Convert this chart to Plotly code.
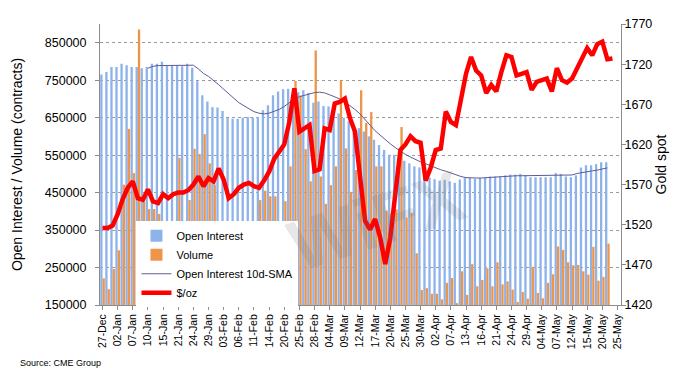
import plotly.graph_objects as go

dates = ["27-Dec","30-Dec","31-Dec","02-Jan","03-Jan","06-Jan","07-Jan","08-Jan","09-Jan","10-Jan",
         "13-Jan","14-Jan","15-Jan","16-Jan","17-Jan","21-Jan","22-Jan","23-Jan","24-Jan","27-Jan",
         "28-Jan","29-Jan","30-Jan","31-Jan","03-Feb","04-Feb","05-Feb","06-Feb","07-Feb","10-Feb",
         "11-Feb","12-Feb","13-Feb","14-Feb","18-Feb","19-Feb","20-Feb","21-Feb","24-Feb","25-Feb",
         "26-Feb","27-Feb","28-Feb","02-Mar","03-Mar","04-Mar","05-Mar","06-Mar","09-Mar","10-Mar",
         "11-Mar","12-Mar","13-Mar","16-Mar","17-Mar","18-Mar","19-Mar","20-Mar","23-Mar","24-Mar",
         "25-Mar","26-Mar","27-Mar","30-Mar","31-Mar","01-Apr","02-Apr","03-Apr","06-Apr","07-Apr",
         "08-Apr","09-Apr","13-Apr","14-Apr","15-Apr","16-Apr","17-Apr","20-Apr","21-Apr","22-Apr",
         "23-Apr","24-Apr","27-Apr","28-Apr","29-Apr","30-Apr","01-May","04-May","05-May","06-May",
         "07-May","08-May","11-May","12-May","13-May","14-May","15-May","18-May","19-May","20-May",
         "21-May","22-May","25-May"]

tick_labels = ["27-Dec","02-Jan","07-Jan","10-Jan","15-Jan","21-Jan","24-Jan","29-Jan","03-Feb","06-Feb",
               "11-Feb","14-Feb","20-Feb","25-Feb","28-Feb","04-Mar","09-Mar","12-Mar","17-Mar","20-Mar",
               "25-Mar","30-Mar","02-Apr","07-Apr","13-Apr","16-Apr","21-Apr","24-Apr","29-Apr","04-May",
               "07-May","12-May","15-May","20-May","25-May"]

left_ticks = [150000, 250000, 350000, 450000, 550000, 650000, 750000, 850000]
right_ticks = [1420, 1470, 1520, 1570, 1620, 1670, 1720, 1770]

# thousands of contracts
open_interest_k = [765,772,785,785,794,790,785,785,782,785,
                   794,794,799,790,790,790,787,794,783,747,
                   710,693,678,677,668,649,647,647,650,652,
                   650,652,670,683,710,720,726,727,726,718,
                   723,716,690,693,681,680,668,661,650,641,
                   630,622,613,600,591,577,564,551,551,555,
                   535,528,520,517,512,490,486,482,484,480,
                   476,485,489,489,487,489,489,493,493,493,
                   496,498,498,500,496,491,491,491,491,491,
                   502,500,493,491,496,517,523,523,526,531,
                   531]

volume_k = [221,192,246,296,471,620,502,885,425,406,
            406,393,366,340,315,543,374,430,567,553,
            606,528,471,365,330,365,320,335,300,320,
            300,430,455,440,440,300,427,520,748,709,
            566,480,829,493,420,470,520,749,568,452,
            510,723,636,665,520,520,402,395,405,625,
            383,396,288,190,195,180,180,165,209,222,
            155,240,177,259,200,217,248,200,264,205,
            213,191,158,185,167,252,182,168,209,232,
            306,297,264,256,257,240,231,305,215,225,
            314]

sma10_k = [None]*9 + [782,787,789,789,789,789,789,789,790,790,
                      780,768,760,750,738,726,714,702,690,682,
                      674,666,662,660,662,666,672,680,690,700,
                      706,710,714,717,718,716,711,706,700,692,
                      683,672,660,646,630,615,603,591,580,570,
                      560,552,545,538,532,527,521,516,511,507,
                      502,497,493,490,489,489,489,490,491,492,
                      493,494,495,495,495,495,495,495,495,495,
                      495,495,495,495,497,501,504,506,508,510,
                      513,516]

gold_usd = [1516,1516,1519,1533,1552,1566,1574,1553,1551,1564,
            1549,1547,1558,1553,1558,1560,1560,1563,1570,1580,
            1568,1578,1574,1590,1576,1553,1558,1566,1570,1572,
            1568,1566,1575,1586,1602,1612,1620,1648,1690,1636,
            1640,1644,1587,1589,1640,1638,1671,1673,1677,1653,
            1636,1585,1525,1514,1527,1504,1471,1504,1558,1613,
            1620,1630,1624,1622,1575,1591,1613,1615,1661,1648,
            1644,1680,1708,1729,1712,1706,1684,1694,1686,1710,
            1731,1729,1706,1708,1710,1688,1698,1700,1702,1686,
            1715,1700,1697,1702,1714,1727,1740,1731,1745,1748,
            1726,1727]

oi = [v * 1000 for v in open_interest_k]
vol = [v * 1000 for v in volume_k]
sma = [None if v is None else v * 1000 for v in sma10_k]

fig = go.Figure()
fig.add_trace(go.Bar(x=dates[:len(oi)], y=oi, name="Open Interest",
                     marker=dict(color="#8DB3EA", line=dict(width=0))))
fig.add_trace(go.Bar(x=dates[:len(vol)], y=vol, name="Volume",
                     marker=dict(color="#EF9549", line=dict(width=0))))
fig.add_trace(go.Scatter(x=dates[:len(sma)], y=sma, name="Open Interest 10d-SMA",
                         mode="lines", line=dict(color="#5F5B92", width=1)))
fig.add_trace(go.Scatter(x=dates[:len(gold_usd)], y=gold_usd, name="$/oz", yaxis="y2",
                         mode="lines", line=dict(color="#FF0000", width=4.5)))

font_family = "Liberation Sans, Arial, Helvetica, sans-serif"

fig.update_layout(
    width=683, height=368,
    margin=dict(l=92, r=70, t=16, b=71, autoexpand=False),
    paper_bgcolor="white", plot_bgcolor="white",
    barmode="group", bargap=0.08, bargroupgap=0,
    font=dict(family=font_family, size=12, color="black"),
    showlegend=True,
    legend=dict(x=0.07, y=0.145, xanchor="left", yanchor="middle",
                bgcolor="white", borderwidth=0, font=dict(size=11),
                itemwidth=30, tracegroupgap=0),
    xaxis=dict(type="category", categoryorder="array", categoryarray=dates,
               tickmode="array", tickvals=tick_labels, ticktext=tick_labels,
               tickangle=-90, tickfont=dict(size=10.5), automargin=False,
               range=[-0.5, 102.7], showgrid=False,
               showline=True, linecolor="#8c8c8c", ticks="outside",
               ticklen=4, tickcolor="#8c8c8c"),
    yaxis=dict(range=[150000, 900000], automargin=False,
               tickmode="array", tickvals=left_ticks,
               tickformat="d", tickfont=dict(size=12.5), ticklabelstandoff=6,
               showgrid=True, gridcolor="#9a9a9a", griddash="dot", gridwidth=1,
               zeroline=False, showline=True, linecolor="#8c8c8c",
               ticks="outside", ticklen=4, tickcolor="#8c8c8c",
               title=dict(text="Open Interest / Volume (contracts)", font=dict(size=14), standoff=18)),
    yaxis2=dict(range=[1420, 1770.01], overlaying="y", side="right", automargin=False,
                tickmode="array", tickvals=right_ticks, tickfont=dict(size=12.5),
                ticklabelstandoff=-4,
                showgrid=False, zeroline=False, showline=True, linecolor="#8c8c8c",
                ticks="outside", ticklen=4, tickcolor="#8c8c8c",
                title=dict(text="Gold spot", font=dict(size=14), standoff=4)),
    annotations=[
        dict(text="Source: CME Group", xref="paper", yref="paper",
             x=-0.158, y=-0.206, xanchor="left", yanchor="middle",
             showarrow=False, font=dict(size=9, color="black")),
        dict(text="<b>WiFX</b>", xref="paper", yref="paper",
             x=0.53, y=0.3, xanchor="center", yanchor="middle",
             showarrow=False, textangle=-18,
             font=dict(size=72, color="rgba(110,110,110,0.17)")),
    ],
)

fig.write_html("out.html")
